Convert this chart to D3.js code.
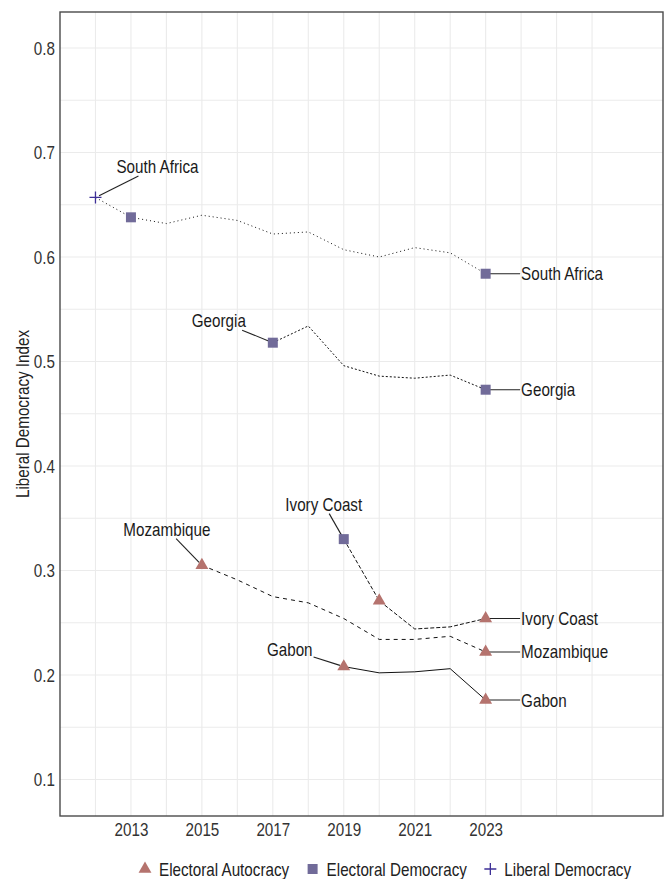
<!DOCTYPE html>
<html>
<head>
<meta charset="utf-8">
<script src="https://cdn.jsdelivr.net/npm/d3@7"></script>
<style>
  body { margin: 0; background: #fff; }
  svg text { font-family: "Liberation Sans", Arial, sans-serif; }
</style>
</head>
<body>
<div id="chart"></div>
<script>
// ---- data ----
const regimeNames = ["Electoral Autocracy", "Electoral Democracy", "Liberal Democracy"];
const regimeColors = ["#b5736e", "#716b99", "#3d2f96"];

const countries = ["South Africa", "Georgia", "Ivory Coast", "Mozambique", "Gabon"];

const southAfricaYears = [2012, 2013, 2014, 2015, 2016, 2017, 2018, 2019, 2020, 2021, 2022, 2023];
const southAfricaValues = [0.657, 0.638, 0.632, 0.640, 0.635, 0.622, 0.624, 0.607, 0.600, 0.609, 0.604, 0.584];
const southAfricaRegimes = [2, 1, 1, 1, 1, 1, 1, 1, 1, 1, 1, 1];

const georgiaYears = [2017, 2018, 2019, 2020, 2021, 2022, 2023];
const georgiaValues = [0.518, 0.534, 0.496, 0.486, 0.484, 0.487, 0.473];
const georgiaRegimes = [1, 1, 1, 1, 1, 1, 1];

const ivoryCoastYears = [2019, 2020, 2021, 2022, 2023];
const ivoryCoastValues = [0.330, 0.271, 0.244, 0.246, 0.254];
const ivoryCoastRegimes = [1, 0, 0, 0, 0];

const mozambiqueYears = [2015, 2016, 2017, 2018, 2019, 2020, 2021, 2022, 2023];
const mozambiqueValues = [0.305, 0.291, 0.275, 0.269, 0.254, 0.234, 0.234, 0.237, 0.222];
const mozambiqueRegimes = [0, 0, 0, 0, 0, 0, 0, 0, 0];

const gabonYears = [2019, 2020, 2021, 2022, 2023];
const gabonValues = [0.208, 0.202, 0.203, 0.206, 0.176];
const gabonRegimes = [0, 0, 0, 0, 0];

const yTickLabels = [0.1, 0.2, 0.3, 0.4, 0.5, 0.6, 0.7, 0.8];
const xTickYears = [2013, 2015, 2017, 2019, 2021, 2023];

// ---- styles / layout ----
const lineDash = {
  "South Africa": "1,3",
  "Georgia": "2,2",
  "Ivory Coast": "4,2",
  "Mozambique": "4,4",
  "Gabon": null
};
// offset of the start label centre from its first point, px
const startLabelOffset = {
  "South Africa": [62, -31],
  "Georgia": [-54, -22],
  "Ivory Coast": [-20, -35],
  "Mozambique": [-35, -36],
  "Gabon": [-54, -17]
};

const W = 664, H = 879;
const panel = {left: 60, right: 663, top: 12, bottom: 816};
const fontSize = 19;
const squeeze = 0.8; // narrow the glyphs to mimic a condensed face

// squeeze every text horizontally, keeping its anchor
function condense(sel) {
  sel.each(function () {
    const w = this.getComputedTextLength();
    d3.select(this)
      .attr("textLength", w * squeeze)
      .attr("lengthAdjust", "spacingAndGlyphs");
  });
  return sel;
}

const series = [
  {name: countries[0], years: southAfricaYears, values: southAfricaValues, regimes: southAfricaRegimes},
  {name: countries[1], years: georgiaYears, values: georgiaValues, regimes: georgiaRegimes},
  {name: countries[2], years: ivoryCoastYears, values: ivoryCoastValues, regimes: ivoryCoastRegimes},
  {name: countries[3], years: mozambiqueYears, values: mozambiqueValues, regimes: mozambiqueRegimes},
  {name: countries[4], years: gabonYears, values: gabonValues, regimes: gabonRegimes}
].map(s => ({
  name: s.name,
  points: s.years.map((yr, i) => ({year: yr, value: s.values[i], regime: s.regimes[i]}))
}));

const svg = d3.select("#chart").append("svg")
  .attr("width", W)
  .attr("height", H);

const x = d3.scaleLinear().domain([2011, 2028]).range([panel.left, panel.right]);
const y = d3.scaleLinear().domain([0.065, 0.8345]).range([panel.bottom, panel.top]);

// grid
const grid = svg.append("g");
grid.selectAll("line.h")
  .data(y.ticks(15))
  .join("line")
  .attr("x1", panel.left).attr("x2", panel.right)
  .attr("y1", d => y(d)).attr("y2", d => y(d))
  .attr("stroke", "#ebebeb").attr("stroke-width", 1.1);
grid.selectAll("line.v")
  .data(d3.range(2012, 2027))
  .join("line")
  .attr("y1", panel.top).attr("y2", panel.bottom)
  .attr("x1", d => x(d)).attr("x2", d => x(d))
  .attr("stroke", "#ebebeb").attr("stroke-width", 1.1);

// panel border
svg.append("rect")
  .attr("x", panel.left).attr("y", panel.top)
  .attr("width", panel.right - panel.left)
  .attr("height", panel.bottom - panel.top)
  .attr("fill", "none")
  .attr("stroke", "#4a4a4a")
  .attr("stroke-width", 1.4);

// axes
const yAxis = svg.append("g")
  .attr("transform", `translate(${panel.left},0)`)
  .call(d3.axisLeft(y).tickValues(yTickLabels).tickSize(0).tickPadding(5).tickFormat(d3.format(".1f")));
const xAxis = svg.append("g")
  .attr("transform", `translate(0,${panel.bottom})`)
  .call(d3.axisBottom(x).tickValues(xTickYears).tickSize(0).tickPadding(7).tickFormat(d3.format("d")));
[yAxis, xAxis].forEach(a => {
  a.select(".domain").remove();
  a.selectAll("text")
    .attr("font-size", fontSize)
    .attr("fill", "#333")
    .style("font-family", "'Liberation Sans', Arial, sans-serif")
    .call(condense);
});

svg.append("text")
  .attr("transform", `translate(22,${(panel.top + panel.bottom) / 2}) rotate(-90)`)
  .attr("text-anchor", "middle")
  .attr("dominant-baseline", "central")
  .attr("font-size", fontSize)
  .attr("fill", "#222")
  .text("Liberal Democracy Index")
  .call(condense);

// lines
const line = d3.line()
  .x(d => x(d.year))
  .y(d => y(d.value));

svg.append("g").selectAll("path")
  .data(series)
  .join("path")
  .attr("fill", "none")
  .attr("stroke", "#111")
  .attr("stroke-width", 1)
  .attr("stroke-dasharray", d => lineDash[d.name])
  .attr("d", d => line(d.points));

// end label connectors
const labelG = svg.append("g");
series.forEach(s => {
  const last = s.points[s.points.length - 1];
  labelG.append("line")
    .attr("x1", x(last.year)).attr("x2", x(last.year + 1) - 1)
    .attr("y1", y(last.value)).attr("y2", y(last.value))
    .attr("stroke", "#222").attr("stroke-width", 1.1);
  labelG.append("text")
    .attr("x", x(last.year + 1))
    .attr("y", y(last.value))
    .attr("dominant-baseline", "central")
    .attr("font-size", fontSize)
    .attr("fill", "#1a1a1a")
    .text(s.name)
    .call(condense);
});

// start labels with leader lines (segment runs toward the label centre, stops at its box)
series.forEach(s => {
  const first = s.points[0];
  const px = x(first.year), py = y(first.value);
  const [dx, dy] = startLabelOffset[s.name];
  const t = labelG.append("text")
    .attr("x", px + dx)
    .attr("y", py + dy)
    .attr("text-anchor", "middle")
    .attr("dominant-baseline", "central")
    .attr("font-size", fontSize)
    .attr("fill", "#1a1a1a")
    .text(s.name)
    .call(condense);
  const b = t.node().getBBox();
  const pad = 1;
  const bx0 = b.x - pad, bx1 = b.x + b.width + pad;
  const by0 = b.y + 3 - pad, by1 = b.y + b.height - 2 + pad;
  const cx = px + dx, cy = py + dy;
  const vx = cx - px, vy = cy - py;
  let tEdge = 1;
  if (vx > 0) tEdge = Math.min(tEdge, (bx0 - px) / vx);
  if (vx < 0) tEdge = Math.min(tEdge, (bx1 - px) / vx);
  let tEdgeY = 1;
  if (vy > 0) tEdgeY = (by0 - py) / vy;
  if (vy < 0) tEdgeY = (by1 - py) / vy;
  const tt = Math.max(tEdge, tEdgeY);
  const len = Math.hypot(vx, vy);
  const t0 = 4 / len;
  labelG.insert("line", "text")
    .attr("x1", px + vx * t0).attr("y1", py + vy * t0)
    .attr("x2", px + vx * tt).attr("y2", py + vy * tt)
    .attr("stroke", "#222").attr("stroke-width", 1.1);
});

// markers: first point, last point and wherever the regime changes
function markerPath(regime) {
  if (regime === 0) return d3.symbol(d3.symbolTriangle, 72)();
  if (regime === 1) return d3.symbol(d3.symbolSquare, 100)();
  return "M-6,0H6M0,-6V6";
}
function styleMarker(sel, regime) {
  if (regime === 2) {
    sel.attr("fill", "none").attr("stroke", regimeColors[2]).attr("stroke-width", 1.3);
  } else {
    sel.attr("fill", regimeColors[regime]).attr("stroke", "none");
  }
}

const marked = [];
series.forEach(s => {
  s.points.forEach((p, i) => {
    const n = s.points.length;
    if (i === 0 || i === n - 1 || p.regime !== s.points[i - 1].regime) marked.push(p);
  });
});
const markerG = svg.append("g");
marked.forEach(p => {
  const m = markerG.append("path")
    .attr("transform", `translate(${x(p.year)},${y(p.value)})`)
    .attr("d", markerPath(p.regime));
  styleMarker(m, p.regime);
});

// legend
const legend = svg.append("g").attr("transform", "translate(0,869)");
let lx = 145;
regimeNames.forEach((name, i) => {
  const m = legend.append("path")
    .attr("transform", `translate(${lx},0)`)
    .attr("d", markerPath(i));
  styleMarker(m, i);
  const t = legend.append("text")
    .attr("x", lx + 14)
    .attr("y", 0)
    .attr("dominant-baseline", "central")
    .attr("font-size", fontSize)
    .attr("fill", "#222")
    .text(name)
    .call(condense);
  // textLength is already set, so this is the squeezed width
  lx += 14 + +t.attr("textLength") + 23.5;
});
</script>
</body>
</html>
